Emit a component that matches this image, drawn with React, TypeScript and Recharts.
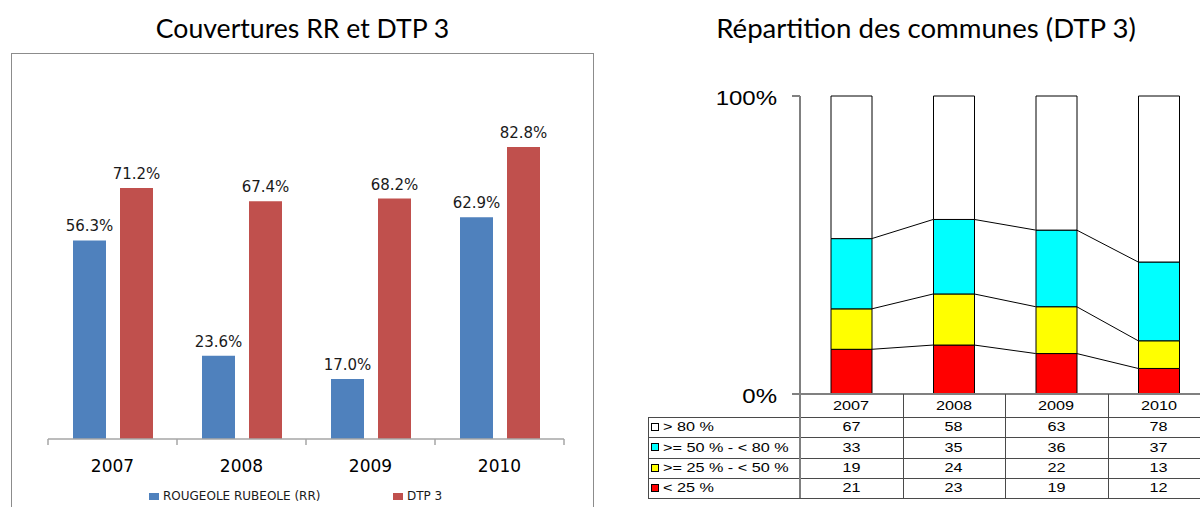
import React from 'react';
import {
  BarChart,
  ComposedChart,
  Bar,
  Line,
  XAxis,
  YAxis,
  LabelList,
  Legend,
} from 'recharts';

// ---------- Left chart data ----------
const years = ['2007', '2008', '2009', '2010'];
const rrValues = [56.3, 23.6, 17.0, 62.9];
const dtpValues = [71.2, 67.4, 68.2, 82.8];
const seriesNames = ['ROUGEOLE RUBEOLE (RR)', 'DTP 3'];
const seriesColors = ['#4F81BD', '#C0504D'];
const leftTitle = 'Couvertures RR et DTP 3';

// ---------- Right chart data ----------
const rightTitle = 'Répartition des communes (DTP 3)';
const countsLt25 = [21, 23, 19, 12];
const counts25to50 = [19, 24, 22, 13];
const counts50to80 = [33, 35, 36, 37];
const countsGt80 = [67, 58, 63, 78];
// bottom to top in the stack
const bandLabels = ['< 25 %', '>= 25 % - < 50 %', '>= 50 % - < 80 %', '> 80 %'];
const bandColors = ['#FF0000', '#FFFF00', '#00FFFF', '#FFFFFF'];
const pctTicks = [0, 100];

const coverageData = years.map((y, i) => ({ year: y, rr: rrValues[i], dtp: dtpValues[i] }));

const bands = [countsLt25, counts25to50, counts50to80, countsGt80];
const communeData = years.map((y, i) => {
  const total = bands.reduce((s, b) => s + b[i], 0);
  const row: Record<string, any> = { year: y };
  let cum = 0;
  bands.forEach((b, k) => {
    const p = (b[i] / total) * 100;
    row['b' + k] = p;
    cum += p;
    row['c' + (k + 1)] = cum; // top of band k (for series lines)
  });
  return row;
});

const tableRows = [
  { label: bandLabels[3], color: bandColors[3], values: countsGt80 },
  { label: bandLabels[2], color: bandColors[2], values: counts50to80 },
  { label: bandLabels[1], color: bandColors[1], values: counts25to50 },
  { label: bandLabels[0], color: bandColors[0], values: countsLt25 },
];

// ---------- styles ----------
const LEFT_TICK_MARGIN = 21;
const RIGHT_BAR_SIZE = 41;
const AXIS_GREY = '#a6a6a6';
const TABLE_LINE = '#4a4a4a';

const LegendContent = () => (
  <div
    style={{
      display: 'flex',
      alignItems: 'center',
      fontFamily: 'DejaVu Sans, Verdana, sans-serif',
      fontSize: 12,
      color: '#1a1a1a',
      lineHeight: '14px',
      whiteSpace: 'nowrap',
    }}
  >
    {seriesNames.map((n, i) => (
      <div key={n} style={{ display: 'flex', alignItems: 'center', width: i === 0 ? 244 : undefined }}>
        <span style={{ display: 'inline-block', width: 10, height: 7, background: seriesColors[i], marginRight: 4 }} />
        <span>{n}</span>
      </div>
    ))}
  </div>
);

const CategoryTick = (props: any) => {
  const { x, y, payload, index, visibleTicksCount, width } = props;
  let half = 0;
  if (payload && typeof payload.offset === 'number' && payload.offset > 0) half = payload.offset;
  else if (width && visibleTicksCount) half = width / visibleTicksCount / 2;
  const axisY = y - LEFT_TICK_MARGIN;
  return (
    <g>
      {half > 0 && (
        <line x1={x - half} x2={x - half} y1={axisY} y2={axisY + 6} stroke={AXIS_GREY} strokeWidth={1.5} />
      )}
      {half > 0 && index === visibleTicksCount - 1 && (
        <line x1={x + half} x2={x + half} y1={axisY} y2={axisY + 6} stroke={AXIS_GREY} strokeWidth={1.5} />
      )}
      <text
        x={x}
        y={y}
        dy="0.71em"
        textAnchor="middle"
        fontSize={17}
        fontFamily="DejaVu Sans, Verdana, sans-serif"
        fill="#000"
      >
        {payload.value}
      </text>
    </g>
  );
};

const PctTick = (props: any) => {
  const { x, y, payload } = props;
  return (
    <g transform={`translate(${x},${y})`}>
      <text
        transform="scale(1.2,1)"
        textAnchor="end"
        dy="0.45em"
        fontSize={20}
        fontFamily="Liberation Sans, Arial, sans-serif"
        fill="#000"
      >
        {payload.value}%
      </text>
    </g>
  );
};

// Series line between consecutive stacked bars (drawn from the Line's own points)
const SeriesLineDot = (props: any) => {
  const { cx, cy, index, points } = props;
  if (!points || index >= points.length - 1 || cx == null || cy == null) {
    return <g key={`sl-${index}`} />;
  }
  const next = points[index + 1];
  return (
    <line
      key={`sl-${index}`}
      x1={cx + RIGHT_BAR_SIZE / 2}
      y1={cy}
      x2={next.x - RIGHT_BAR_SIZE / 2}
      y2={next.y}
      stroke="#000"
      strokeWidth={1}
    />
  );
};

const stretch: React.CSSProperties = {
  display: 'inline-block',
  transform: 'scaleX(1.2)',
  transformOrigin: 'center',
};

// table geometry (layout only)
const TABLE_LEFT = 648;
const LABEL_COL_W = 152;
const COL_W = 102.5;
const HEADER_TOP = 394;
const HEADER_H = 23;
const ROW_H = 20.25;

export default function App() {
  const tableRight = TABLE_LEFT + LABEL_COL_W + COL_W * years.length;
  const bodyTop = HEADER_TOP + HEADER_H;
  const tableBottom = bodyTop + ROW_H * tableRows.length;
  return (
    <div
      style={{
        position: 'absolute',
        left: 0,
        top: 0,
        width: 1200,
        height: 507,
        overflow: 'hidden',
        background: '#fff',
      }}
    >
      {/* Titles */}
      <div
        style={{
          position: 'absolute',
          left: 11,
          width: 583,
          top: 12,
          textAlign: 'center',
          fontFamily: 'Lato, sans-serif',
          fontSize: 26.6,
          lineHeight: '32px',
          color: '#000',
        }}
      >
        {leftTitle}
      </div>
      <div
        style={{
          position: 'absolute',
          left: 676,
          width: 500,
          top: 12,
          textAlign: 'center',
          fontFamily: 'Lato, sans-serif',
          fontSize: 27.6,
          lineHeight: '32px',
          color: '#000',
        }}
      >
        {rightTitle}
      </div>

      {/* Left chart frame */}
      <div
        style={{
          position: 'absolute',
          left: 11,
          top: 53,
          width: 583,
          height: 480,
          border: '1px solid #8c8c8c',
          boxSizing: 'border-box',
        }}
      />

      {/* Left chart */}
      <div style={{ position: 'absolute', left: 0, top: 0 }}>
        <BarChart
          width={600}
          height={507}
          data={coverageData}
          margin={{ top: 86.4, right: 36, bottom: 0, left: 48 }}
          barGap={14}
          barCategoryGap={24}
        >
          <XAxis
            dataKey="year"
            type="category"
            height={68}
            tickSize={0}
            tickLine={false}
            axisLine={{ stroke: AXIS_GREY, strokeWidth: 1.5 }}
            tickMargin={LEFT_TICK_MARGIN}
            interval={0}
            tick={<CategoryTick />}
          />
          <YAxis hide domain={[0, 100]} />
          <Legend
            verticalAlign="middle"
            align="center"
            layout="horizontal"
            wrapperStyle={{ left: 149, top: 489, width: 330, height: 14 }}
            content={() => <LegendContent />}
          />
          <Bar dataKey="rr" name={seriesNames[0]} fill={seriesColors[0]} barSize={33} isAnimationActive={false}>
            <LabelList
              dataKey="rr"
              position="top"
              offset={9}
              formatter={(v: any) => `${Number(v).toFixed(1)}%`}
              fill="#1a1a1a"
              fontSize={15}
              fontFamily="DejaVu Sans, Verdana, sans-serif"
            />
          </Bar>
          <Bar dataKey="dtp" name={seriesNames[1]} fill={seriesColors[1]} barSize={33} isAnimationActive={false}>
            <LabelList
              dataKey="dtp"
              position="top"
              offset={9}
              formatter={(v: any) => `${Number(v).toFixed(1)}%`}
              fill="#1a1a1a"
              fontSize={15}
              fontFamily="DejaVu Sans, Verdana, sans-serif"
            />
          </Bar>
        </BarChart>
      </div>

      {/* Right chart */}
      <div style={{ position: 'absolute', left: 640, top: 0 }}>
        <ComposedChart
          width={580}
          height={507}
          data={communeData}
          margin={{ top: 96, right: 10, bottom: 112, left: 100 }}
        >
          <XAxis
            dataKey="year"
            type="category"
            height={1}
            tick={false}
            tickLine={false}
            axisLine={{ stroke: '#808080', strokeWidth: 2 }}
          />
          <YAxis
            domain={[0, 100]}
            ticks={pctTicks}
            interval={0}
            width={60}
            tickSize={8}
            tickMargin={15}
            axisLine={{ stroke: '#808080', strokeWidth: 2 }}
            tickLine={{ stroke: '#808080', strokeWidth: 2 }}
            tick={<PctTick />}
          />
          {bands.map((_, k) => (
            <Bar
              key={'b' + k}
              dataKey={'b' + k}
              name={bandLabels[k]}
              stackId="s"
              fill={bandColors[k]}
              stroke="#000"
              strokeWidth={1}
              barSize={RIGHT_BAR_SIZE}
              isAnimationActive={false}
            />
          ))}
          {[1, 2, 3].map((lvl) => (
            <Line
              key={'c' + lvl}
              dataKey={'c' + lvl}
              stroke="none"
              dot={SeriesLineDot}
              activeDot={false}
              legendType="none"
              isAnimationActive={false}
            />
          ))}
        </ComposedChart>
      </div>

      {/* Data table (layout divs) */}
      <div
        style={{
          position: 'absolute',
          left: 0,
          top: 0,
          width: 1200,
          height: 507,
          fontFamily: 'Liberation Sans, Arial, sans-serif',
          fontSize: 13.5,
          color: '#000',
          lineHeight: 1,
        }}
      >
        {/* header year cells */}
        {years.map((y, i) => (
          <div
            key={'h' + y}
            style={{
              position: 'absolute',
              left: TABLE_LEFT + LABEL_COL_W + i * COL_W,
              top: HEADER_TOP,
              width: COL_W,
              height: HEADER_H,
              display: 'flex',
              alignItems: 'center',
              justifyContent: 'center',
            }}
          >
            <span style={stretch}>{y}</span>
          </div>
        ))}
        {/* body cells */}
        {tableRows.map((r, ri) => (
          <React.Fragment key={r.label}>
            <div
              style={{
                position: 'absolute',
                left: TABLE_LEFT,
                top: bodyTop + ri * ROW_H,
                width: LABEL_COL_W,
                height: ROW_H,
                display: 'flex',
                alignItems: 'center',
                whiteSpace: 'nowrap',
              }}
            >
              <span
                style={{
                  display: 'inline-block',
                  width: 8,
                  height: 8,
                  boxSizing: 'border-box',
                  border: '1px solid #000',
                  background: r.color,
                  marginLeft: 3,
                  marginRight: 4,
                }}
              />
              <span style={{ ...stretch, transformOrigin: 'left center' }}>{r.label}</span>
            </div>
            {r.values.map((v, ci) => (
              <div
                key={ci}
                style={{
                  position: 'absolute',
                  left: TABLE_LEFT + LABEL_COL_W + ci * COL_W,
                  top: bodyTop + ri * ROW_H,
                  width: COL_W,
                  height: ROW_H,
                  display: 'flex',
                  alignItems: 'center',
                  justifyContent: 'center',
                }}
              >
                <span style={stretch}>{v}</span>
              </div>
            ))}
          </React.Fragment>
        ))}
        {/* horizontal rules */}
        {[0, 1, 2, 3, 4].map((k) => (
          <div
            key={'hr' + k}
            style={{
              position: 'absolute',
              left: TABLE_LEFT,
              top: Math.round(bodyTop + k * ROW_H),
              width: tableRight - TABLE_LEFT,
              height: 1,
              background: TABLE_LINE,
            }}
          />
        ))}
        {/* vertical rules */}
        <div
          style={{
            position: 'absolute',
            left: TABLE_LEFT,
            top: bodyTop,
            width: 1,
            height: tableBottom - bodyTop,
            background: TABLE_LINE,
          }}
        />
        {years.map((y, i) => (
          <div
            key={'vr' + y}
            style={{
              position: 'absolute',
              left: Math.round(TABLE_LEFT + LABEL_COL_W + i * COL_W) - (i === 0 ? 1 : 0),
              top: HEADER_TOP,
              width: i === 0 ? 2 : 1,
              height: tableBottom - HEADER_TOP,
              background: i === 0 ? '#808080' : TABLE_LINE,
            }}
          />
        ))}
      </div>
    </div>
  );
}
